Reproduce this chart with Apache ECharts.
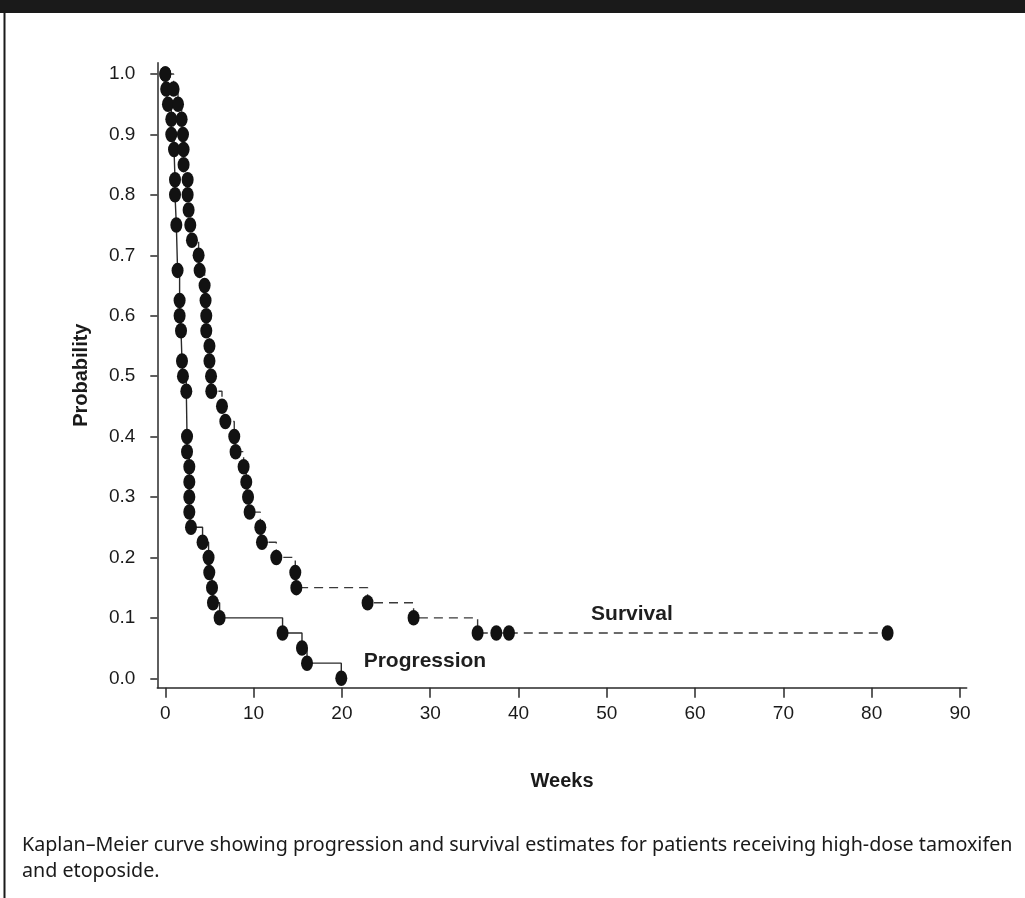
<!DOCTYPE html>
<html>
<head>
<meta charset="utf-8">
<script src="https://cdn.jsdelivr.net/npm/echarts@6/dist/echarts.min.js"></script>
<style>
html,body{margin:0;padding:0;background:#fff;}
#chart{width:1025px;height:898px;}
</style>
</head>
<body>
<div id="chart"></div>
<script>
// Progression (Kaplan–Meier) — weeks, probability
const progWeeks = [0, 0.1, 0.3, 0.68, 0.68, 0.99, 1.1, 1.1, 1.25, 1.39, 1.62, 1.62, 1.78, 1.89, 2.0, 2.38, 2.46, 2.46, 2.72, 2.72, 2.72, 2.72, 2.91, 4.22, 4.9, 4.98, 5.29, 5.4, 6.15, 13.28, 15.48, 16.05, 19.93];
const progProb  = [1.0, 0.975, 0.95, 0.925, 0.90, 0.875, 0.825, 0.80, 0.75, 0.675, 0.625, 0.60, 0.575, 0.525, 0.50, 0.475, 0.40, 0.375, 0.35, 0.325, 0.30, 0.275, 0.25, 0.225, 0.20, 0.175, 0.15, 0.125, 0.10, 0.075, 0.05, 0.025, 0.0];
// Survival (Kaplan–Meier) — weeks, probability
const survWeeks = [0, 0.94, 1.44, 1.85, 2.0, 2.07, 2.07, 2.53, 2.53, 2.64, 2.83, 3.02, 3.77, 3.89, 4.45, 4.56, 4.64, 4.64, 5.0, 5.0, 5.18, 5.21, 6.42, 6.8, 7.81, 7.96, 8.87, 9.17, 9.37, 9.55, 10.76, 10.95, 12.57, 14.72, 14.84, 22.91, 28.12, 35.37, 37.49, 38.92, 81.8];
const survProb  = [1.0, 0.975, 0.95, 0.925, 0.90, 0.875, 0.85, 0.825, 0.80, 0.775, 0.75, 0.725, 0.70, 0.675, 0.65, 0.625, 0.60, 0.575, 0.55, 0.525, 0.50, 0.475, 0.45, 0.425, 0.40, 0.375, 0.35, 0.325, 0.30, 0.275, 0.25, 0.225, 0.20, 0.175, 0.15, 0.125, 0.10, 0.075, 0.075, 0.075, 0.075];
const xTicks = [0, 10, 20, 30, 40, 50, 60, 70, 80, 90];
const yTicks = [0, 0.1, 0.2, 0.3, 0.4, 0.5, 0.6, 0.7, 0.8, 0.9, 1.0];
const curveLabels = [
  {name: 'Survival', week: 52.85, prob: 0.106},
  {name: 'Progression', week: 29.4, prob: 0.0286}
];
const captionLines = [
  'Kaplan–Meier curve showing progression and survival estimates for patients receiving high-dose tamoxifen',
  'and etoposide.'
];

const zip = (xs, ys) => xs.map((x, i) => [x, ys[i]]);
const chart = echarts.init(document.getElementById('chart'), null, {renderer: 'canvas'});
const axisCol = '#2a2a2a';
const textCol = '#1a1a1a';
const dotStyle = {color: '#121212', opacity: 1};
const sans = '"Liberation Sans", Arial, sans-serif';

chart.setOption({
  animation: false,
  backgroundColor: '#fff',
  grid: {left: 157.3, right: 58.3, top: 62.7, bottom: 210.3, containLabel: false},
  xAxis: {
    type: 'value', min: -0.906, max: 90.76,
    name: 'Weeks', nameLocation: 'middle', nameGap: 84,
    nameTextStyle: {fontFamily: sans, fontWeight: 'bold', fontSize: 20, color: textCol},
    axisLine: {show: true, onZero: false, lineStyle: {color: axisCol, width: 1.5}},
    axisTick: {show: true, inside: false, length: 10, customValues: xTicks, lineStyle: {color: axisCol, width: 1.5}},
    axisLabel: {customValues: xTicks, margin: 17, fontFamily: sans, fontSize: 19, color: textCol},
    splitLine: {show: false}
  },
  yAxis: {
    type: 'value', min: -0.0156, max: 1.0187,
    name: 'Probability', nameLocation: 'middle', nameGap: 66, nameRotate: 90,
    nameTextStyle: {fontFamily: sans, fontWeight: 'bold', fontSize: 20, color: textCol},
    axisLine: {show: true, onZero: false, lineStyle: {color: axisCol, width: 1.5}},
    axisTick: {show: true, inside: false, length: 7, customValues: yTicks, lineStyle: {color: axisCol, width: 1.5}},
    axisLabel: {customValues: yTicks, margin: 22, fontFamily: sans, fontSize: 19, color: textCol,
      formatter: v => v.toFixed(1)},
    splitLine: {show: false}
  },
  series: [
    {
      name: 'Progression', type: 'line', step: 'end',
      data: zip(progWeeks, progProb),
      symbol: 'circle', symbolSize: [12, 15.5], showAllSymbol: true,
      itemStyle: dotStyle,
      lineStyle: {color: '#2a2a2a', width: 1.4},
      z: 3
    },
    {
      name: 'Survival', type: 'line', step: 'end',
      data: zip(survWeeks, survProb),
      symbol: 'circle', symbolSize: [12, 15.5], showAllSymbol: true,
      itemStyle: dotStyle,
      lineStyle: {color: '#3a3a3a', width: 1.4, type: [9, 6]},
      z: 3
    },
    {
      type: 'scatter', symbolSize: 0, silent: true,
      itemStyle: {opacity: 1, color: '#1e1e1e'},
      data: curveLabels.map(d => ({value: [d.week, d.prob], name: d.name})),
      label: {show: true, position: 'inside', formatter: p => p.name, opacity: 1,
        textBorderWidth: 0,
        fontFamily: sans, fontWeight: 'bold', fontSize: 21, color: '#1e1e1e'},
      z: 4
    }
  ],
  graphic: [
    {type: 'rect', left: 0, top: 0, shape: {width: 1025, height: 13}, style: {fill: '#1a1a1a'}},
    {type: 'line', shape: {x1: 4.5, y1: 13, x2: 4.5, y2: 898}, style: {stroke: '#1a1a1a', lineWidth: 2}},
    {type: 'text', left: 22, top: 835, style: {text: captionLines[0], font: '19.7px "Noto Sans"', fill: textCol}},
    {type: 'text', left: 22, top: 861, style: {text: captionLines[1], font: '19.7px "Noto Sans"', fill: textCol}}
  ]
});
</script>
</body>
</html>
